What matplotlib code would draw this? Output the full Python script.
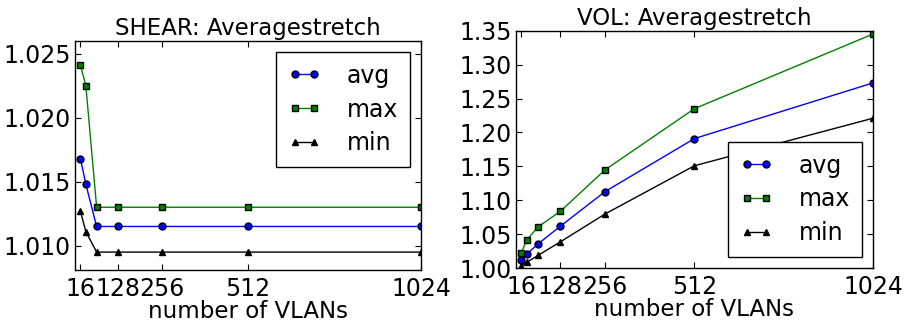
import matplotlib
matplotlib.use("Agg")
import matplotlib.pyplot as plt
import numpy as np

# number of VLANs
vlans = [16, 32, 64, 128, 256, 512, 1024]
xticks = [16, 128, 256, 512, 1024]

# SHEAR average stretch
shear_avg = [1.0168, 1.0148, 1.0115, 1.0115, 1.0115, 1.0115, 1.0115]
shear_max = [1.0241, 1.0225, 1.0130, 1.0130, 1.0130, 1.0130, 1.0130]
shear_min = [1.0127, 1.0111, 1.0095, 1.0095, 1.0095, 1.0095, 1.0095]

# VOL average stretch
vol_avg = [1.012, 1.021, 1.036, 1.062, 1.113, 1.191, 1.273]
vol_max = [1.023, 1.042, 1.061, 1.084, 1.145, 1.235, 1.345]
vol_min = [1.003, 1.009, 1.019, 1.039, 1.080, 1.151, 1.221]

plt.rcParams['font.family'] = 'DejaVu Sans'
plt.rcParams['font.size'] = 17
plt.rcParams['xtick.direction'] = 'in'
plt.rcParams['ytick.direction'] = 'in'
plt.rcParams['xtick.top'] = True
plt.rcParams['ytick.right'] = True
plt.rcParams['xtick.major.size'] = 4
plt.rcParams['ytick.major.size'] = 4

fig = plt.figure(figsize=(9.07, 3.23), dpi=100)
ax1 = fig.add_axes([0.0827, 0.164, 0.3815, 0.710])
ax2 = fig.add_axes([0.5686, 0.1693, 0.394, 0.736])


def draw(ax, avg, mx, mn, title, ylim, legloc):
    ax.plot(vlans, avg, color='b', marker='o', markersize=5, mec='k', linewidth=1, label='avg')
    ax.plot(vlans, mx, color='g', marker='s', markersize=5, mec='k', linewidth=1, label='max')
    ax.plot(vlans, mn, color='k', marker='^', markersize=5, mec='k', linewidth=1, label='min')
    ax.set_xlim(0, 1024)
    ax.set_ylim(*ylim)
    ax.set_xticks(xticks)
    ax.set_xticklabels([str(v) for v in xticks])
    ax.set_xlabel('number of VLANs', fontsize=16.5, labelpad=-1)
    ax.set_title(title, fontsize=16.5, pad=4)
    for sp in ax.spines.values():
        sp.set_linewidth(1)
    ax.tick_params(axis='x', pad=5)
    ax.tick_params(axis='y', pad=3)
    leg = ax.legend(loc=legloc, numpoints=2, fancybox=False, framealpha=1,
                    edgecolor='k', handlelength=1.4, borderpad=0.5,
                    labelspacing=0.42, handletextpad=1.1, borderaxespad=0.47,
                    fontsize=17)
    leg.get_frame().set_linewidth(1)


draw(ax1, shear_avg, shear_max, shear_min, 'SHEAR: Averagestretch',
     (1.0081, 1.026), 'upper right')
ax1.set_yticks([1.010, 1.015, 1.020, 1.025])
ax1.set_yticklabels(['%.3f' % v for v in [1.010, 1.015, 1.020, 1.025]])

draw(ax2, vol_avg, vol_max, vol_min, 'VOL: Averagestretch',
     (1.0, 1.35), 'lower right')
vt = np.arange(1.0, 1.351, 0.05)
ax2.set_yticks(vt)
ax2.set_yticklabels(['%.2f' % v for v in vt])

fig.savefig('out.png', dpi=100)
